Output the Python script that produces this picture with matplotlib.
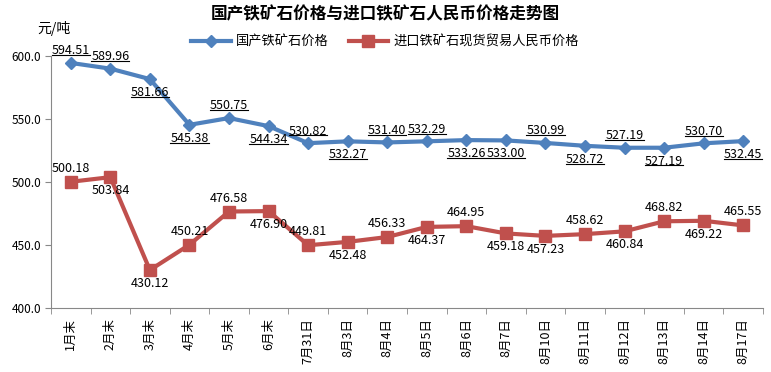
import matplotlib
matplotlib.use('Agg')
import matplotlib.pyplot as plt
from matplotlib.lines import Line2D

plt.rcParams['font.family'] = ['Noto Sans CJK SC', 'DejaVu Sans']

categories = ['1月末', '2月末', '3月末', '4月末', '5月末', '6月末', '7月31日',
              '8月3日', '8月4日', '8月5日', '8月6日', '8月7日', '8月10日',
              '8月11日', '8月12日', '8月13日', '8月14日', '8月17日']
domestic = [594.51, 589.96, 581.66, 545.38, 550.75, 544.34, 530.82, 532.27, 531.40,
            532.29, 533.26, 533.00, 530.99, 528.72, 527.19, 527.19, 530.70, 532.45]
imported = [500.18, 503.84, 430.12, 450.21, 476.58, 476.90, 449.81, 452.48, 456.33,
            464.37, 464.95, 459.18, 457.23, 458.62, 460.84, 468.82, 469.22, 465.55]
# label placement: 1 = above, 0 = below
domestic_pos = [1, 1, 0, 0, 1, 0, 1, 0, 1, 1, 0, 0, 1, 0, 1, 0, 1, 0]
imported_pos = [1, 0, 0, 1, 1, 0, 1, 0, 1, 0, 1, 0, 0, 1, 0, 1, 0, 1]

blue = '#4F81BD'
red = '#C0504D'

fig = plt.figure(figsize=(7.71, 3.72), dpi=100)
ax = fig.add_axes([51 / 771, 1 - 308 / 372, 712 / 771, 252 / 372])

x = list(range(len(categories)))
ax.plot(x, domestic, color=blue, lw=3, marker='D', ms=6, label='国产铁矿石价格')
ax.plot(x, imported, color=red, lw=3, marker='s', ms=8.5, label='进口铁矿石现货贸易人民币价格')

ax.set_xlim(-0.5, len(categories) - 0.5)
ax.set_ylim(400, 600)
ax.set_yticks([400, 450, 500, 550, 600])
ax.set_yticklabels(['%.1f' % v for v in [400, 450, 500, 550, 600]], fontsize=8.5)
ax.set_xticks(x)
ax.set_xticklabels(categories, rotation=90, fontsize=9, va='top')
ax.set_xticks([i - 0.5 for i in range(len(categories) + 1)], minor=True)
ax.tick_params(axis='x', which='major', length=0, pad=7)
ax.tick_params(axis='x', which='minor', length=4, color='#888888')
ax.tick_params(axis='y', length=4, color='#888888', pad=3)
for s in ['top', 'right']:
    ax.spines[s].set_visible(False)
for s in ['left', 'bottom']:
    ax.spines[s].set_color('#888888')

blue_texts = []
for i, v in enumerate(domestic):
    up = domestic_pos[i]
    t = ax.annotate('%.2f' % v, (i, v), xytext=(0, 4 if up else -5),
                    textcoords='offset points', ha='center',
                    va='bottom' if up else 'top', fontsize=9)
    blue_texts.append(t)
for i, v in enumerate(imported):
    up = imported_pos[i]
    ax.annotate('%.2f' % v, (i, v), xytext=(0, 5 if up else -5),
                textcoords='offset points', ha='center',
                va='bottom' if up else 'top', fontsize=9)

fig.text(0.5, 0.985, '国产铁矿石价格与进口铁矿石人民币价格走势图', ha='center', va='top',
         fontsize=12, fontweight='bold')
fig.text(37 / 771, 1 - 29 / 372, '元/吨', ha='left', va='center', fontsize=10)
fig.legend(loc='center', bbox_to_anchor=(385 / 771, 1 - 42 / 372), ncol=2,
           frameon=False, fontsize=9.5, handlelength=3, columnspacing=1.5,
           handletextpad=0.4)

# underline the domestic price labels
fig.canvas.draw()
inv = fig.transFigure.inverted()
for t in blue_texts:
    bb = t.get_window_extent().transformed(inv)
    fig.add_artist(Line2D([bb.x0, bb.x1], [bb.y0 + 0.006, bb.y0 + 0.006],
                          transform=fig.transFigure, color='black', lw=0.8))

fig.savefig('out.png', dpi=100)
